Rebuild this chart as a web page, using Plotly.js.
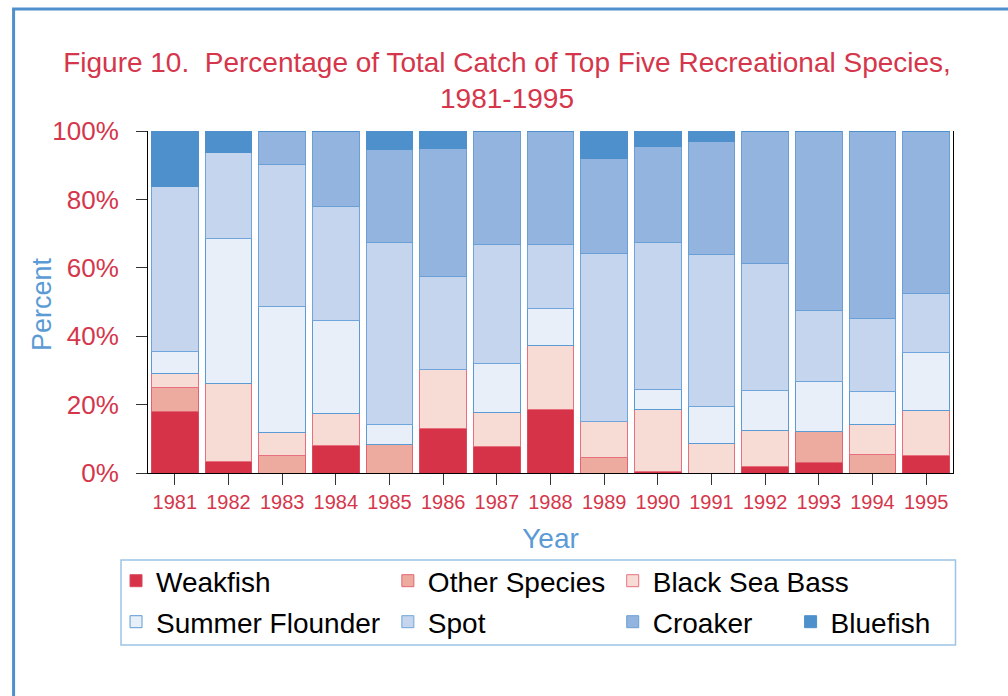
<!DOCTYPE html>
<html>
<head>
<meta charset="utf-8">
<script src="https://cdn.plot.ly/plotly-3.0.1.min.js"></script>
<style>
  html, body { margin: 0; padding: 0; background: #ffffff; }
  #chart { width: 1008px; height: 696px; }
</style>
</head>
<body>
<div id="chart"></div>
<script>
// ---- Data (percent of total catch) ----
const years = ["1981","1982","1983","1984","1985","1986","1987","1988","1989","1990","1991","1992","1993","1994","1995"];
const weakfish        = [18.1, 3.3, 0.0, 7.9, 0.0, 12.9, 7.7, 18.7, 0.0, 0.3, 0.0, 2.0, 3.0, 0.0, 5.1];
const otherSpecies    = [7.0, 0.0, 5.0, 0.0, 8.4, 0.0, 0.0, 0.0, 4.5, 0.0, 0.0, 0.0, 9.2, 5.4, 0.0];
const blackSeaBass    = [4.0, 22.9, 6.9, 9.6, 0.0, 17.5, 9.9, 18.5, 10.7, 18.3, 8.5, 10.4, 0.0, 8.8, 13.1];
const summerFlounder  = [6.5, 42.5, 36.9, 27.0, 5.9, 0.0, 14.3, 10.8, 0.0, 5.7, 11.0, 11.8, 14.7, 9.6, 17.1];
const spot            = [48.3, 24.9, 41.4, 33.4, 53.0, 27.1, 35.0, 18.9, 49.0, 43.2, 44.4, 37.1, 20.5, 21.3, 17.3];
const croaker         = [0.0, 0.0, 9.8, 22.1, 27.2, 37.5, 33.1, 33.1, 27.7, 27.9, 32.9, 38.7, 52.6, 54.9, 47.4];
const bluefish        = [16.1, 6.4, 0.0, 0.0, 5.5, 5.0, 0.0, 0.0, 8.1, 4.6, 3.2, 0.0, 0.0, 0.0, 0.0];
const tickVals = [0, 20, 40, 60, 80, 100];
const tickText = ["0%", "20%", "40%", "60%", "80%", "100%"];

// ---- Layout geometry helpers (pixel -> paper) ----
const L = 148, R = 953.5, T = 131, B = 473;
const px = x => (x - L) / (R - L);
const py = y => (B - y) / (B - T);

const RED = "#D5364B";
const BLUE_TXT = "#5B9BD5";
const FONT = "Liberation Sans, Arial, sans-serif";

const series = [
  {name: "Weakfish",        y: weakfish,       fill: "#D63349", line: "#D94A5C", lx: 158, ly: 581, leg: "legend"},
  {name: "Other Species",   y: otherSpecies,   fill: "#EDABA0", line: "#E26473", lx: 430, ly: 581, leg: "legend2"},
  {name: "Black Sea Bass",  y: blackSeaBass,   fill: "#F7DCD6", line: "#E8707E", lx: 655, ly: 581, leg: "legend3"},
  {name: "Summer Flounder", y: summerFlounder, fill: "#E8EFF8", line: "#5B9BD5", lx: 158, ly: 622, leg: "legend4"},
  {name: "Spot",            y: spot,           fill: "#C4D5ED", line: "#6FA5DA", lx: 430, ly: 622, leg: "legend5"},
  {name: "Croaker",         y: croaker,        fill: "#93B4DF", line: "#6A9FD6", lx: 655, ly: 622, leg: "legend6"},
  {name: "Bluefish",        y: bluefish,       fill: "#4E90CB", line: "#4E90CB", lx: 833, ly: 622, leg: "legend7"}
];

const traces = series.map(s => ({
  type: "bar",
  name: s.name,
  x: years,
  y: s.y,
  legend: s.leg,
  marker: {color: s.fill, line: {color: s.line, width: 1}},
  hoverinfo: "x+y+name"
}));

const layout = {
  width: 1008,
  height: 696,
  paper_bgcolor: "#ffffff",
  plot_bgcolor: "#ffffff",
  margin: {l: L, r: 1008 - R, t: T, b: 696 - B, pad: 0},
  barmode: "stack",
  bargap: 0.13,
  font: {family: FONT, color: RED},
  title: {
    text: "Figure 10.&nbsp; Percentage of Total Catch of Top Five Recreational Species,<br>1981-1995",
    font: {size: 28, color: RED, family: FONT},
    x: 507 / 1008, xref: "container", xanchor: "center",
    y: 1 - 72 / 696, yref: "container", yanchor: "middle"
  },
  xaxis: {
    type: "category",
    showline: true, linecolor: "#000000", linewidth: 1,
    ticks: "outside", ticklen: 11, tickcolor: "#333333", tickwidth: 1,
    tickfont: {size: 20, color: RED},
    title: {text: "Year", font: {size: 28, color: BLUE_TXT}, standoff: 16},
    showgrid: false, zeroline: false, fixedrange: true
  },
  yaxis: {
    range: [0, 100],
    tickvals: tickVals, ticktext: tickText,
    showline: true, linecolor: "#000000", linewidth: 1, mirror: true,
    ticks: "outside", ticklen: 11, tickcolor: "#333333", tickwidth: 1,
    tickfont: {size: 26, color: RED},
    ticklabelstandoff: 12,
    showgrid: false, zeroline: false, fixedrange: true
  },
  annotations: [
    {text: "Percent", xref: "paper", yref: "paper", x: px(42), y: py(304),
     xanchor: "center", yanchor: "middle", textangle: -90, showarrow: false,
     font: {size: 27, color: BLUE_TXT, family: FONT}}
  ],
  shapes: [
    // legend box
    {type: "rect", xref: "paper", yref: "paper",
     x0: px(121), x1: px(956), y0: py(645), y1: py(560),
     line: {color: "#9DC3E6", width: 1.5}, fillcolor: "rgba(0,0,0,0)", layer: "below"},
    // page frame (left and top blue border)
    {type: "line", xref: "paper", yref: "paper",
     x0: px(13.5), x1: px(13.5), y0: py(9), y1: py(720),
     line: {color: "#4F8FCC", width: 3}},
    {type: "line", xref: "paper", yref: "paper",
     x0: px(12), x1: px(1030), y0: py(9), y1: py(9),
     line: {color: "#4F8FCC", width: 3}}
  ],
  showlegend: true
};

series.forEach(s => {
  layout[s.leg] = {
    x: px(s.lx - 42), xanchor: "left", xref: "paper",
    y: py(s.ly), yanchor: "middle", yref: "paper",
    bgcolor: "rgba(0,0,0,0)", borderwidth: 0,
    orientation: "h",
    font: {size: 28, color: "#000000", family: FONT},
    itemclick: false, itemdoubleclick: false
  };
});

Plotly.newPlot("chart", traces, layout, {displayModeBar: false, staticPlot: true});
</script>
</body>
</html>
